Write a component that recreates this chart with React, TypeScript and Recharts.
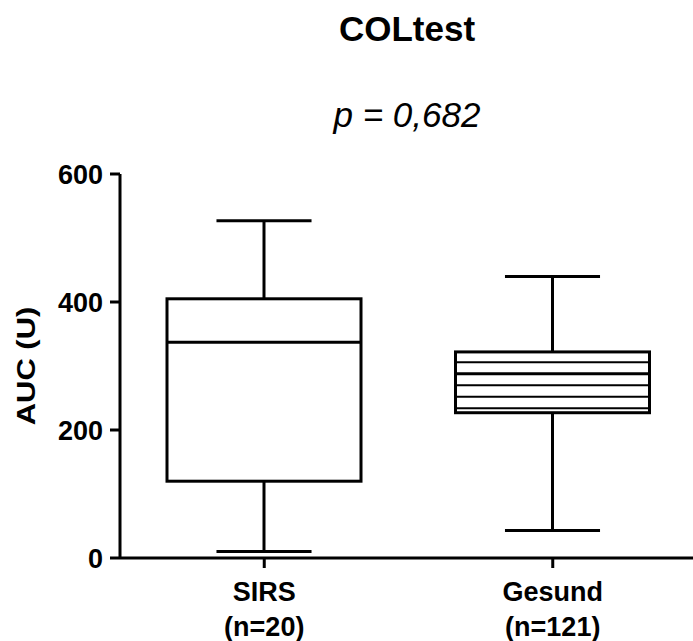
import { ComposedChart, Bar, XAxis, YAxis } from 'recharts'

// five-number summaries per group
const groups = ['SIRS', 'Gesund']
const groupN = [20, 121]
const whiskerLow = [10, 43]
const q1 = [120, 227]
const median = [337, 288]
const q3 = [405, 322]
const whiskerHigh = [527, 440]
const yTicks = [0, 200, 400, 600]

// Gesund box is drawn with horizontal hatching
const HATCHED: Record<string, boolean> = { SIRS: false, Gesund: true }
const HATCH_STEP = 11.5

const FONT = '"Liberation Sans", Arial, sans-serif'

const data = groups.map((name, i) => ({
  name,
  n: groupN[i],
  min: whiskerLow[i],
  q1: q1[i],
  median: median[i],
  q3: q3[i],
  max: whiskerHigh[i],
}))

function BoxShape(props: any) {
  const { x, width, payload } = props
  const top = Math.min(props.y, props.y + props.height)
  const h = Math.abs(props.height)
  const { min, max } = payload
  // map a value onto the pixel span of the [min, max] bar
  const toY = (v: number) => top + (h * (max - v)) / (max - min)
  const cx = x + width / 2
  const capHalf = width * 0.245
  const yMax = toY(max)
  const yQ3 = toY(payload.q3)
  const yMed = toY(payload.median)
  const yQ1 = toY(payload.q1)
  const yMin = toY(min)

  const stripes: number[] = []
  if (HATCHED[payload.name]) {
    for (let s = yMed - HATCH_STEP; s > yQ3 + 2; s -= HATCH_STEP) stripes.push(s)
    for (let s = yMed + HATCH_STEP; s < yQ1 - 2; s += HATCH_STEP) stripes.push(s)
  }

  return (
    <g stroke="#000" fill="none">
      <line x1={cx} x2={cx} y1={yQ3} y2={yMax} strokeWidth={3} />
      <line x1={cx - capHalf} x2={cx + capHalf} y1={yMax} y2={yMax} strokeWidth={3} />
      <line x1={cx} x2={cx} y1={yQ1} y2={yMin} strokeWidth={3} />
      <line x1={cx - capHalf} x2={cx + capHalf} y1={yMin} y2={yMin} strokeWidth={3} />
      <rect x={x} y={yQ3} width={width} height={yQ1 - yQ3} fill="#fff" strokeWidth={3} />
      {stripes.map((s) => (
        <line key={s} x1={x} x2={x + width} y1={s} y2={s} strokeWidth={2} />
      ))}
      <line x1={x} x2={x + width} y1={yMed} y2={yMed} strokeWidth={3} />
    </g>
  )
}

function GroupTick(props: any) {
  const { x, y, payload } = props
  const i = groups.indexOf(payload.value)
  return (
    <g>
      <text x={x} y={y + 31} textAnchor="middle" fontFamily={FONT} fontWeight="bold" fontSize={27} fill="#000">
        {payload.value}
      </text>
      <text x={x} y={y + 66} textAnchor="middle" fontFamily={FONT} fontWeight="bold" fontSize={27} fill="#000">
        {`(n=${groupN[i]})`}
      </text>
    </g>
  )
}

// axis title, stretched along its length
const YLabel = () => (
  <text
    transform="translate(26 366) rotate(-90) scale(1.19 1)"
    textAnchor="middle"
    dominantBaseline="central"
    fontFamily={FONT}
    fontWeight="bold"
    fontSize={26}
    fill="#000"
  >
    AUC (U)
  </text>
)

const headStyle: React.CSSProperties = {
  position: 'absolute',
  left: 207,
  width: 400,
  textAlign: 'center',
  fontSize: 35,
  lineHeight: '35px',
}

export default function App() {
  return (
    <div style={{ position: 'absolute', left: 0, top: 0, width: 693, height: 641, background: '#fff', fontFamily: FONT }}>
      <div style={{ ...headStyle, top: 11, fontWeight: 'bold' }}>COLtest</div>
      <div style={{ ...headStyle, top: 97, fontStyle: 'italic' }}>p = 0,682</div>
      <ComposedChart width={693} height={641} data={data} margin={{ top: 174, right: -4, bottom: 0, left: 0 }}>
        <XAxis
          dataKey="name"
          height={83}
          tickSize={10}
          tickLine={{ stroke: '#000', strokeWidth: 3 }}
          axisLine={{ stroke: '#000', strokeWidth: 3 }}
          tick={<GroupTick />}
          interval={0}
        />
        <YAxis
          type="number"
          domain={[0, 600]}
          ticks={yTicks}
          width={120}
          tickSize={10}
          tickMargin={7}
          tickLine={{ stroke: '#000', strokeWidth: 3 }}
          axisLine={{ stroke: '#000', strokeWidth: 3 }}
          tick={{ fill: '#000', fontSize: 27, fontWeight: 'bold', fontFamily: FONT }}
          label={{ content: <YLabel /> }}
        />
        <Bar
          dataKey={(d: any) => [d.min, d.max]}
          barSize={194}
          shape={<BoxShape />}
          isAnimationActive={false}
        />
      </ComposedChart>
    </div>
  )
}
